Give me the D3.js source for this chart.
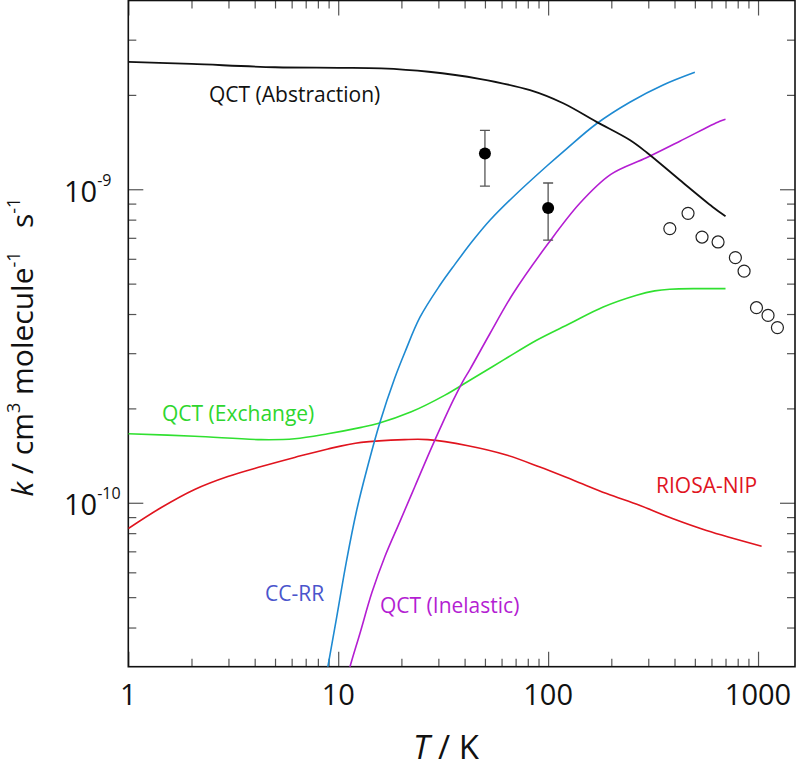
<!DOCTYPE html>
<html>
<head>
<meta charset="utf-8">
<script src="https://cdn.jsdelivr.net/npm/d3@7"></script>
<style>
  html, body { margin: 0; padding: 0; background: #fff; }
  svg { display: block; }
  text { font-family: "Open Sans", "DejaVu Sans", sans-serif; }
</style>
</head>
<body>
<svg id="chart" width="796" height="768"></svg>
<script>
// ---------------- data (T in K, k in cm^3 molecule^-1 s^-1) ----------------
const qctAbstraction = [[1,2.55e-9],[2,2.51e-9],[5,2.45e-9],[10,2.44e-9],[16,2.43e-9],[27,2.37e-9],[47,2.25e-9],[82,2.07e-9],[118,1.88e-9],[170,1.64e-9],[245,1.435e-9],[295,1.31e-9],[424,1.07e-9],[608,8.78e-10],[700,8.2e-10]];
const ccRR = [[8.5,2.49e-11],[8.92,2.99e-11],[9.83,4.31e-11],[10.96,6.54e-11],[12.24,9.45e-11],[13.65,1.268e-10],[15.8,1.804e-10],[18.56,2.49e-10],[20.78,3.02e-10],[24.49,3.90e-10],[30.5,4.94e-10],[35.96,5.76e-10],[43.9,6.87e-10],[52.8,7.96e-10],[68.1,9.45e-10],[98.3,1.184e-9],[122.4,1.346e-9],[170,1.618e-9],[245,1.895e-9],[353,2.15e-9],[500,2.36e-9]];
const qctInelastic = [[11,2.71e-11],[11.37,2.99e-11],[12.69,3.83e-11],[14.47,5.17e-11],[16.69,6.74e-11],[19.67,8.71e-11],[23.19,1.127e-10],[27.34,1.459e-10],[31.52,1.804e-10],[35.28,2.12e-10],[39.26,2.44e-10],[42.38,2.66e-10],[52.78,3.46e-10],[68.13,4.65e-10],[100,6.71e-10],[141.6,9.02e-10],[198.9,1.115e-9],[294,1.26e-9],[424,1.423e-9],[657,1.648e-9],[700,1.672e-9]];
const qctExchange = [[1,1.66e-10],[2.07,1.63e-10],[4.3,1.59e-10],[6.2,1.60e-10],[8.93,1.66e-10],[12.87,1.74e-10],[15.45,1.79e-10],[22.3,1.95e-10],[32.1,2.20e-10],[42.4,2.46e-10],[61.1,2.85e-10],[88.1,3.30e-10],[127,3.73e-10],[183,4.21e-10],[264,4.59e-10],[322,4.74e-10],[380,4.80e-10],[528,4.82e-10],[700,4.82e-10]];
const riosaNIP = [[1,8.28e-11],[1.436,9.66e-11],[2.07,1.103e-10],[2.98,1.213e-10],[4.3,1.305e-10],[6.2,1.395e-10],[8.93,1.485e-10],[12.87,1.558e-10],[20.7,1.59e-10],[26.7,1.59e-10],[41.5,1.52e-10],[63.3,1.42e-10],[91.4,1.30e-10],[132,1.18e-10],[190,1.07e-10],[274,9.80e-11],[394,8.89e-11],[568,8.16e-11],[1040,7.27e-11]];
// experimental points with error bars: [T, k, kLow, kHigh]
const expFilled = [[50,1.30e-9,1.024e-9,1.54e-9],[100,8.71e-10,6.88e-10,1.047e-9]];
// open-circle data: [T, k]
const expOpen = [[380,7.49e-10],[464,8.38e-10],[541,7.04e-10],[645,6.79e-10],[780,6.05e-10],[858,5.48e-10],[983,4.19e-10],[1116,3.96e-10],[1237,3.62e-10]];
// ticks
const xMajor = [1,10,100,1000];
const xTickLabels = ["1","10","100","1000"];
const yMajor = [1e-10,1e-9];
const yTickExp = ["-10","-9"];
// ----------------------------------------------------------------------------

const svg = d3.select("#chart");
const L = 128.3, R = 795, T = 0.5, B = 666.7;
const x = d3.scaleLog().domain([1,1500]).range([L,R]);
const y = d3.scaleLog().domain([3e-11,4e-9]).range([B,T]);

const xMinor = [];
for (let d = 1; d <= 1000; d *= 10) for (let m = 2; m <= 9; m++) { const v = m*d; if (v < 1500) xMinor.push(v); }
const yMinor = [];
for (let d = 1e-11; d <= 1e-9; d *= 10) for (let m = 2; m <= 9; m++) { const v = m*d; if (v > 3.01e-11 && v < 3.99e-9) yMinor.push(v); }

svg.append("defs").append("clipPath").attr("id","clip")
  .append("rect").attr("x",L).attr("y",T).attr("width",R-L).attr("height",B-T);

function tickAxis(gen, transform) {
  const g = svg.append("g").attr("transform", transform).call(gen);
  g.select(".domain").remove();
  g.selectAll(".tick line").attr("stroke","#555").attr("stroke-width",1.2);
  g.selectAll(".tick text").remove();
  return g;
}
tickAxis(d3.axisBottom(x).tickValues(xMajor).tickSize(-15).tickSizeOuter(0), `translate(0,${B})`);
tickAxis(d3.axisBottom(x).tickValues(xMinor).tickSize(-8).tickSizeOuter(0), `translate(0,${B})`);
tickAxis(d3.axisTop(x).tickValues(xMajor).tickSize(-15).tickSizeOuter(0), `translate(0,${T})`);
tickAxis(d3.axisTop(x).tickValues(xMinor).tickSize(-8).tickSizeOuter(0), `translate(0,${T})`);
tickAxis(d3.axisLeft(y).tickValues(yMajor).tickSize(-15).tickSizeOuter(0), `translate(${L},0)`);
tickAxis(d3.axisLeft(y).tickValues(yMinor).tickSize(-8).tickSizeOuter(0), `translate(${L},0)`);
tickAxis(d3.axisRight(y).tickValues(yMajor).tickSize(-15).tickSizeOuter(0), `translate(${R},0)`);
tickAxis(d3.axisRight(y).tickValues(yMinor).tickSize(-8).tickSizeOuter(0), `translate(${R},0)`);

svg.append("rect").attr("x",L).attr("y",T).attr("width",R-L).attr("height",B-T)
  .attr("fill","none").attr("stroke","#111").attr("stroke-width",1.6);

// x tick labels
svg.append("g").selectAll("text").data(xMajor).join("text")
  .attr("x", d => x(d)).attr("y", 704.5).attr("text-anchor","middle")
  .attr("font-size", 29).attr("fill","#111").text((d,i) => xTickLabels[i]);

// y tick labels 10^n
const yl = svg.append("g").selectAll("text").data(yMajor).join("text")
  .attr("x", 64).attr("y", d => y(d) + 12.5).attr("font-size", 29).attr("fill","#111");
yl.append("tspan").text("10");
yl.append("tspan").attr("font-size", 16).attr("dy", -16).text((d,i) => yTickExp[i]);

// axis titles
const xt = svg.append("text").attr("x", 446).attr("y", 759).attr("text-anchor","middle")
  .attr("font-size", 33).attr("fill","#111");
xt.append("tspan").attr("font-style","italic").text("T");
xt.append("tspan").text(" / K");

const yt = svg.append("text").attr("transform","translate(33,347) rotate(-90)")
  .attr("text-anchor","middle").attr("font-size", 30).attr("fill","#111");
yt.append("tspan").attr("font-style","italic").text("k");
yt.append("tspan").text(" / cm");
yt.append("tspan").attr("font-size",18).attr("dy",-13).text("3");
yt.append("tspan").attr("dy",13).text(" molecule");
yt.append("tspan").attr("font-size",18).attr("dy",-13).text("-1");
yt.append("tspan").attr("dy",13).text("\u00a0\u00a0 s");
yt.append("tspan").attr("font-size",18).attr("dy",-13).text("-1");

// curves
const line = d3.line().x(d => x(d[0])).y(d => y(d[1])).curve(d3.curveCatmullRom.alpha(0.5));
const plot = svg.append("g").attr("clip-path","url(#clip)");
const series = [
  {data: riosaNIP, color: "#e0141e", w: 1.6},
  {data: qctExchange, color: "#30e030", w: 1.6},
  {data: qctInelastic, color: "#b41ed2", w: 1.6},
  {data: ccRR, color: "#1e8ad2", w: 1.6},
  {data: qctAbstraction, color: "#111", w: 1.8}
];
plot.selectAll("path.curve").data(series).join("path").attr("class","curve")
  .attr("d", s => line(s.data)).attr("fill","none")
  .attr("stroke", s => s.color).attr("stroke-width", s => s.w);

// error bars
const eb = plot.append("g").attr("stroke","#555").attr("stroke-width",1.3);
eb.selectAll("line.v").data(expFilled).join("line").attr("class","v")
  .attr("x1", d => x(d[0])).attr("x2", d => x(d[0])).attr("y1", d => y(d[2])).attr("y2", d => y(d[3]));
eb.selectAll("line.lo").data(expFilled).join("line").attr("class","lo")
  .attr("x1", d => x(d[0]) - 5).attr("x2", d => x(d[0]) + 5).attr("y1", d => y(d[2])).attr("y2", d => y(d[2]));
eb.selectAll("line.hi").data(expFilled).join("line").attr("class","hi")
  .attr("x1", d => x(d[0]) - 5).attr("x2", d => x(d[0]) + 5).attr("y1", d => y(d[3])).attr("y2", d => y(d[3]));
plot.append("g").selectAll("circle").data(expFilled).join("circle")
  .attr("cx", d => x(d[0])).attr("cy", d => y(d[1])).attr("r", 6).attr("fill","#000");
plot.append("g").selectAll("circle").data(expOpen).join("circle")
  .attr("cx", d => x(d[0])).attr("cy", d => y(d[1])).attr("r", 6)
  .attr("fill","#fff").attr("stroke","#222").attr("stroke-width",1.2);

// curve labels
const labels = [
  {t: "QCT (Abstraction)", x: 209, y: 101.7, c: "#111"},
  {t: "QCT (Exchange)", x: 162, y: 420.7, c: "#2ed62e"},
  {t: "RIOSA-NIP", x: 656, y: 492.7, c: "#e0141e"},
  {t: "CC-RR", x: 265, y: 601, c: "#4a55cc"},
  {t: "QCT (Inelastic)", x: 380, y: 613.3, c: "#b41ed2"}
];
svg.append("g").selectAll("text").data(labels).join("text")
  .attr("x", d => d.x).attr("y", d => d.y).attr("font-size", 21)
  .attr("fill", d => d.c).text(d => d.t);
</script>
</body>
</html>
